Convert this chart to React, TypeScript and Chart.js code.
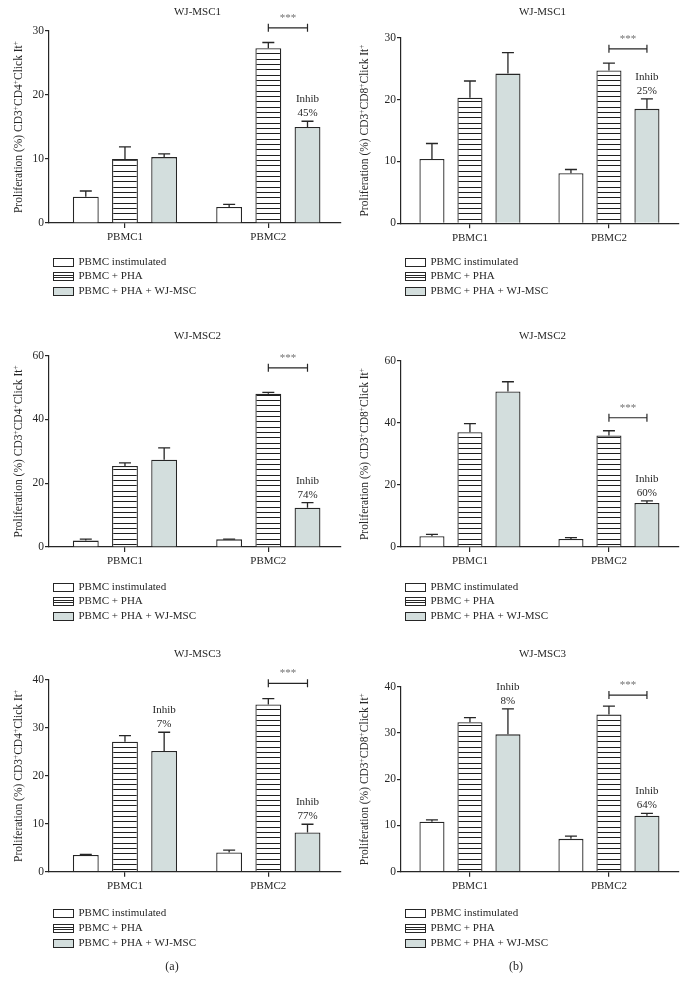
import React, { useEffect, useRef } from 'react';
import { Chart, registerables } from 'chart.js';

Chart.register(...registerables);

// ---------- data ----------
const categories = ['PBMC1', 'PBMC2'];
const seriesNames = ['PBMC instimulated', 'PBMC + PHA', 'PBMC + PHA + WJ-MSC'];

// (a) CD4, WJ-MSC1
const a1Unstim = [4.1, 2.5];
const a1Pha = [10.0, 27.3];
const a1Msc = [10.3, 15.0];
const a1UnstimErr = [0.9, 0.4];
const a1PhaErr = [1.9, 0.9];
const a1MscErr = [0.5, 0.9];
const a1Inhib = [null, '45%'];

// (b) CD8, WJ-MSC1
const b1Unstim = [10.4, 8.1];
const b1Pha = [20.3, 24.7];
const b1Msc = [24.2, 18.5];
const b1UnstimErr = [2.5, 0.6];
const b1PhaErr = [2.7, 1.2];
const b1MscErr = [3.4, 1.6];
const b1Inhib = [null, '25%'];

// (a) CD4, WJ-MSC2
const a2Unstim = [2.0, 2.4];
const a2Pha = [25.4, 48.1];
const a2Msc = [27.4, 12.3];
const a2UnstimErr = [0.5, 0.1];
const a2PhaErr = [1.0, 0.4];
const a2MscErr = [3.7, 1.6];
const a2Inhib = [null, '74%'];

// (b) CD8, WJ-MSC2
const b2Unstim = [3.5, 2.6];
const b2Pha = [37.0, 36.0];
const b2Msc = [50.2, 14.2];
const b2UnstimErr = [0.6, 0.4];
const b2PhaErr = [2.8, 1.5];
const b2MscErr = [3.1, 0.7];
const b2Inhib = [null, '60%'];

// (a) CD4, WJ-MSC3
const a3Unstim = [3.5, 4.0];
const a3Pha = [27.1, 34.9];
const a3Msc = [25.2, 8.2];
const a3UnstimErr = [0.1, 0.5];
const a3PhaErr = [1.3, 1.2];
const a3MscErr = [3.9, 1.7];
const a3Inhib = ['7%', '77%'];

// (b) CD8, WJ-MSC3
const b3Unstim = [10.8, 7.1];
const b3Pha = [32.3, 34.0];
const b3Msc = [29.7, 12.1];
const b3UnstimErr = [0.4, 0.6];
const b3PhaErr = [1.0, 1.8];
const b3MscErr = [5.5, 0.5];
const b3Inhib = ['8%', '64%'];

const yMaxes = [30, 30, 60, 60, 40, 40];
const yStepSizes = [10, 10, 20, 20, 10, 10];
const bracketLevels = [30.5, 28.2, 56.2, 41.7, 39.3, 38.2];
const panelTitles = ['WJ-MSC1', 'WJ-MSC1', 'WJ-MSC2', 'WJ-MSC2', 'WJ-MSC3', 'WJ-MSC3'];
const markers = ['CD4', 'CD8', 'CD4', 'CD8', 'CD4', 'CD8'];
const panelLetters = [null, null, null, null, '(a)', '(b)'];

// ---------- styling ----------
const SERIF = '"Liberation Serif", "Times New Roman", "DejaVu Serif", serif';
const INK = '#262626';
const GRAY_FILL = '#d3dedd';

type Panel = {
  key: string;
  x: number; y: number; w: number; h: number;
  l: number; r: number; t: number; b: number;
  xMin: number; xMax: number;
  yMax: number; yStep: number;
  title: string; titleY: number;
  legendY: number; yTitleX: number;
  marker: string;
  values: number[][]; errors: number[][];
  inhib: (string | null)[];
  bracket: number;
  letter: string | null;
};

function mk(i: number, values: number[][], errors: number[][], inhib: (string | null)[]): Panel {
  const col = i % 2;
  const row = Math.floor(i / 2);
  const x = col * 344;
  const y = row === 0 ? 0 : row === 1 ? 320 : 640;
  const h = row === 2 ? 354 : 320;
  const tops = [[31, 37.7], [35.7, 41], [40, 46.7]];
  const bottoms = [[223, 223.3], [227, 227], [231.7, 231.7]];
  const titleYs = [12.5, 16.5, 14];
  const legendYs = [261.7, 266.7, 273.3];
  return {
    key: 'p' + i,
    x, y, w: 344, h,
    l: col === 0 ? 49 : 57,
    r: col === 0 ? 341 : 335,
    t: tops[row][col],
    b: bottoms[row][col],
    xMin: col === 0 ? -0.53 : -0.496,
    xMax: col === 0 ? 1.507 : 1.504,
    yMax: yMaxes[i], yStep: yStepSizes[i],
    title: panelTitles[i], titleY: titleYs[row],
    legendY: legendYs[row],
    yTitleX: col === 0 ? 18 : 20,
    marker: markers[i],
    values, errors, inhib,
    bracket: bracketLevels[i],
    letter: panelLetters[i],
  };
}

const panels: Panel[] = [
  mk(0, [a1Unstim, a1Pha, a1Msc], [a1UnstimErr, a1PhaErr, a1MscErr], a1Inhib),
  mk(1, [b1Unstim, b1Pha, b1Msc], [b1UnstimErr, b1PhaErr, b1MscErr], b1Inhib),
  mk(2, [a2Unstim, a2Pha, a2Msc], [a2UnstimErr, a2PhaErr, a2MscErr], a2Inhib),
  mk(3, [b2Unstim, b2Pha, b2Msc], [b2UnstimErr, b2PhaErr, b2MscErr], b2Inhib),
  mk(4, [a3Unstim, a3Pha, a3Msc], [a3UnstimErr, a3PhaErr, a3MscErr], a3Inhib),
  mk(5, [b3Unstim, b3Pha, b3Msc], [b3UnstimErr, b3PhaErr, b3MscErr], b3Inhib),
];

function makeStripe(ctx: CanvasRenderingContext2D): CanvasPattern | string {
  const c = document.createElement('canvas');
  c.width = 8;
  c.height = 16;
  const g = c.getContext('2d');
  if (!g) return '#fff';
  g.fillStyle = '#ffffff';
  g.fillRect(0, 0, 8, 16);
  g.fillStyle = '#1e1e1e';
  [0, 5, 11].forEach((yy) => g.fillRect(0, yy, 8, 1));
  return ctx.createPattern(c, 'repeat') || '#fff';
}

function drawYTitle(ctx: CanvasRenderingContext2D, cx: number, cy: number, marker: string) {
  const segs: [string, boolean][] = [
    ['Proliferation (%) CD3', false], ['+', true], [marker, false], ['+', true], ['Click It', false], ['+', true],
  ];
  const fN = `11.5px ${SERIF}`;
  const fS = `7.5px ${SERIF}`;
  let total = 0;
  const widths = segs.map(([t, s]) => {
    ctx.font = s ? fS : fN;
    const w = ctx.measureText(t).width;
    total += w;
    return w;
  });
  ctx.save();
  ctx.translate(cx, cy);
  ctx.rotate(-Math.PI / 2);
  ctx.fillStyle = INK;
  ctx.textBaseline = 'alphabetic';
  ctx.textAlign = 'left';
  let x = -total / 2;
  segs.forEach(([t, s], i) => {
    ctx.font = s ? fS : fN;
    ctx.fillText(t, x, s ? -0.5 : 4);
    x += widths[i];
  });
  ctx.restore();
}

function PanelChart({ p }: { p: Panel }) {
  const ref = useRef<HTMLCanvasElement>(null);
  useEffect(() => {
    const canvas = ref.current;
    if (!canvas) return;
    const ctx = canvas.getContext('2d');
    if (!ctx) return;
    const stripe = makeStripe(ctx);
    const fills: (string | CanvasPattern)[] = ['#ffffff', stripe, GRAY_FILL];

    const decor = {
      id: 'decor_' + p.key,
      afterDatasetsDraw(chart: any) {
        const c = chart.ctx as CanvasRenderingContext2D;
        const ys = chart.scales.y;
        c.save();
        c.strokeStyle = INK;
        c.lineWidth = 1.3;
        p.values.forEach((vals, di) => {
          const meta = chart.getDatasetMeta(di);
          vals.forEach((v, j) => {
            const el = meta.data[j];
            const top = ys.getPixelForValue(v + p.errors[di][j]);
            const y0 = ys.getPixelForValue(v);
            c.beginPath();
            c.moveTo(el.x, y0);
            c.lineTo(el.x, top);
            c.moveTo(el.x - 6, top);
            c.lineTo(el.x + 6, top);
            c.stroke();
          });
        });
        c.restore();
      },
      afterDraw(chart: any) {
        const c = chart.ctx as CanvasRenderingContext2D;
        const ys = chart.scales.y;
        const area = chart.chartArea;
        c.save();
        // title
        c.fillStyle = INK;
        c.font = `11px ${SERIF}`;
        c.textAlign = 'center';
        c.textBaseline = 'middle';
        c.fillText(p.title, (area.left + area.right) / 2 + 2.5, p.titleY);
        // y title
        drawYTitle(c, p.yTitleX, (area.top + area.bottom) / 2, p.marker);
        // bracket
        const m1 = chart.getDatasetMeta(1);
        const m2 = chart.getDatasetMeta(2);
        const bx1 = m1.data[1].x;
        const bx2 = m2.data[1].x;
        const by = ys.getPixelForValue(p.bracket);
        c.strokeStyle = INK;
        c.lineWidth = 1.2;
        c.beginPath();
        c.moveTo(bx1, by);
        c.lineTo(bx2, by);
        c.moveTo(bx1, by - 4);
        c.lineTo(bx1, by + 4);
        c.moveTo(bx2, by - 4);
        c.lineTo(bx2, by + 4);
        c.stroke();
        c.fillStyle = '#707070';
        c.font = `11px ${SERIF}`;
        c.textAlign = 'center';
        c.textBaseline = 'middle';
        c.fillText('***', (bx1 + bx2) / 2, by - 10);
        // inhibition labels
        c.fillStyle = INK;
        c.font = `11px ${SERIF}`;
        p.inhib.forEach((lab, j) => {
          if (!lab) return;
          const el = m2.data[j];
          const top = ys.getPixelForValue(p.values[2][j] + p.errors[2][j]);
          c.fillText('Inhib', el.x, top - 22);
          c.fillText(lab, el.x, top - 8);
        });
        // legend
        const lx = Math.round(area.left + 4) + 0.5;
        seriesNames.forEach((name, i) => {
          const cy = p.legendY + i * 14.7;
          const by0 = Math.round(cy - 4) + 0.5;
          c.fillStyle = i === 2 ? GRAY_FILL : '#ffffff';
          c.fillRect(lx, by0, 20, 8);
          c.strokeStyle = INK;
          c.lineWidth = 1;
          c.strokeRect(lx, by0, 20, 8);
          if (i === 1) {
            c.beginPath();
            c.moveTo(lx, by0 + 3);
            c.lineTo(lx + 20, by0 + 3);
            c.moveTo(lx, by0 + 5);
            c.lineTo(lx + 20, by0 + 5);
            c.stroke();
          }
          c.fillStyle = INK;
          c.font = `11px ${SERIF}`;
          c.textAlign = 'left';
          c.textBaseline = 'middle';
          c.fillText(name, lx + 25, cy);
        });
        if (p.letter) {
          c.font = `12px ${SERIF}`;
          c.textAlign = 'center';
          c.fillText(p.letter, 172, 327.3);
        }
        c.restore();
      },
    };

    const chart = new Chart(canvas, {
      type: 'bar',
      data: {
        datasets: p.values.map((vals, di) => ({
          label: seriesNames[di],
          data: vals.map((v, j) => ({ x: j, y: v })),
          backgroundColor: fills[di],
          borderColor: INK,
          borderWidth: 1.3,
          categoryPercentage: 0.82,
          barPercentage: 0.66,
        })),
      },
      options: {
        responsive: false,
        animation: false,
        events: [],
        layout: {
          padding: { left: p.l - 40, right: p.w - p.r, top: p.t, bottom: p.h - p.b - 30 },
        },
        plugins: {
          legend: { display: false },
          title: { display: false },
          tooltip: { enabled: false },
        },
        scales: {
          x: {
            type: 'linear',
            min: p.xMin,
            max: p.xMax,
            offset: false,
            afterBuildTicks: (s: any) => {
              s.ticks = categories.map((_, i) => ({ value: i }));
            },
            afterFit: (s: any) => {
              s.height = 30;
            },
            grid: {
              display: true, offset: false, drawOnChartArea: false, drawTicks: true,
              tickLength: 5, color: INK, lineWidth: 1.2,
            },
            border: { display: true, color: INK, width: 1.2 },
            ticks: {
              autoSkip: false, maxRotation: 0, padding: 3, color: INK,
              font: { family: SERIF, size: 11 },
              callback: (v: any) => categories[Math.round(Number(v))] ?? '',
            },
          },
          y: {
            min: 0,
            max: p.yMax,
            afterFit: (s: any) => {
              s.width = 40;
            },
            grid: {
              display: true, drawOnChartArea: false, drawTicks: true,
              tickLength: 4, color: INK, lineWidth: 1.2,
            },
            border: { display: true, color: INK, width: 1.2 },
            ticks: {
              stepSize: p.yStep, padding: 1, color: INK,
              font: { family: SERIF, size: 11.5 },
            },
          },
        },
      },
      plugins: [decor],
    } as any);
    return () => chart.destroy();
  }, [p]);
  return (
    <canvas
      ref={ref}
      width={p.w}
      height={p.h}
      style={{ position: 'absolute', left: p.x, top: p.y, width: p.w, height: p.h }}
    />
  );
}

export default function App() {
  return (
    <div style={{ position: 'absolute', left: 0, top: 0, width: 688, height: 994, background: '#ffffff' }}>
      {panels.map((p) => (
        <PanelChart key={p.key} p={p} />
      ))}
    </div>
  );
}
